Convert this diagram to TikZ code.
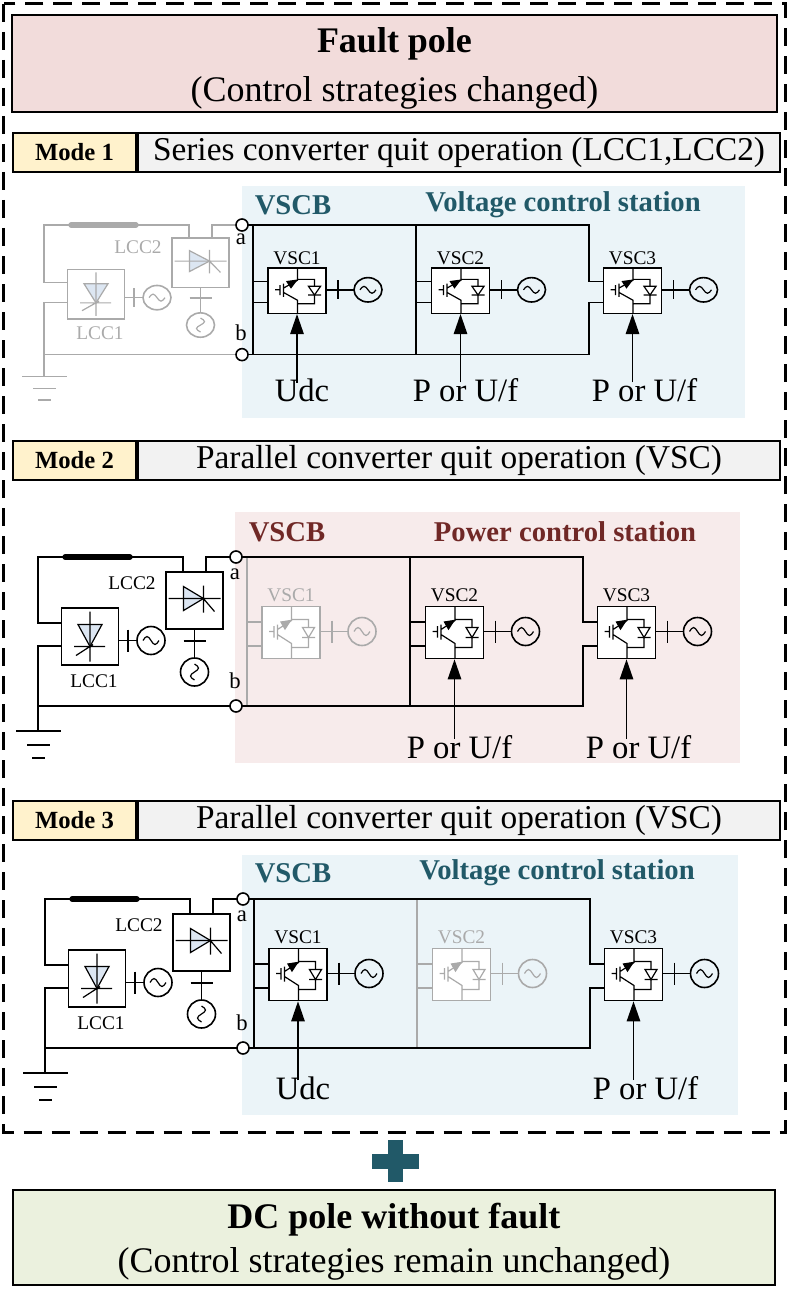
\documentclass[tikz,border=0pt]{standalone}
\usepackage{fontspec}
\setmainfont{Liberation Serif}
\usetikzlibrary{arrows.meta,positioning}

\definecolor{faultpink}{RGB}{242,220,219}
\definecolor{modeyellow}{RGB}{255,242,204}
\definecolor{modegray}{RGB}{242,242,242}
\definecolor{okgreen}{RGB}{235,241,222}
\definecolor{vscblue}{RGB}{235,244,248}
\definecolor{vscpink}{RGB}{247,235,235}
\definecolor{tealtxt}{RGB}{33,89,104}
\definecolor{redtxt}{RGB}{112,40,38}
\definecolor{diodeblue}{RGB}{220,230,242}
\definecolor{offgray}{RGB}{170,170,170}

\tikzset{
  wire/.style={line width=1.2pt},
  sym/.style={line width=0.9pt},
  vscbox/.style={draw, fill=white, line width=1.2pt, minimum width=43.5pt, minimum height=39pt, inner sep=0pt, transform shape},
  lccbox/.style={draw, fill=white, line width=1.2pt, minimum width=43pt, minimum height=42.75pt, inner sep=0pt, transform shape},
  term/.style={draw, fill=white, line width=1.2pt, circle, inner sep=0pt, minimum size=9pt},
  bigtxt/.style={align=center, inner sep=0pt},
  rowbox/.style={draw, line width=1.5pt, minimum height=29.25pt, inner sep=0pt},
  rowtxt/.style={font=\fontsize{25}{30}\selectfont},
  modetxt/.style={font=\fontsize{18.5}{22}\selectfont\bfseries},
  station/.style={font=\fontsize{21.5}{26}\selectfont\bfseries, inner sep=0pt},
  ctrltxt/.style={font=\fontsize{24.5}{28}\selectfont, inner sep=2pt},
  smalltxt/.style={font=\fontsize{14.5}{17}\selectfont, inner sep=0pt},
  abtxt/.style={font=\fontsize{17}{20}\selectfont, inner sep=0pt},
  ctrlarrow/.style={line width=1.2pt, shorten <=-5pt, -{Triangle[length=15pt, width=10pt]}},
}

% ac source: [rotation]{centre}{colour}
\newcommand{\acsrc}[3][0]{%
  \begin{scope}[shift={#2}, rotate=#1]
    \draw[wire,#3] (0,0) circle (14);
    \draw[sym,#3] (-8,0) sin (-4,-4) cos (0,0) sin (4,4) cos (8,0);
  \end{scope}}

% vsc unit: {name}{x}{colour}{label}
\newcommand{\vscunit}[4]{%
  \node[vscbox, draw=#3] (#1) at (#2,75.5) {};
  \node[smalltxt, text=#3] (#1-lbl) at (#2,38) {#4};
  \begin{scope}[shift={(#2,75.5)}]
    \draw[sym,#3] (0.5,-26) -- (0.5,-12) -- (-13.5,-3) (-13.5,-8) -- (-13.5,7) (-13.5,2) -- (0.5,11) -- (0.5,26)
      (-17,-6.5) -- (-17,5) (-17,-1) -- (-22,-1)
      (0.5,-13) -- (17.5,-13) -- (17.5,15) -- (0.5,15)
      (11,5) -- (24,5);
    \filldraw[sym,#3] (-0.5,-12) -- (-10,-10.5) -- (-6,-3.5) -- cycle;
    \filldraw[sym,draw=#3,fill=white] (11.5,-5) -- (23.5,-5) -- (17.5,5) -- cycle;
    \draw[wire,#3] (29,-1) -- (57,-1) (41,-12) -- (41,10);
  \end{scope}
  \acsrc{(#2+71,74.5)}{#3}}

% series part with LCC1, LCC2: {colour}
\newcommand{\lccside}[1]{%
  \draw[wire,#1] (-53,15) -- (-53,0) -- (-198,0) -- (-198,66) -- (-175,66)
    (-30,15) -- (-30,0) -- (0,0)
    (-175,89) -- (-198,89) -- (-198,174)
    (-198,149) -- (0,149)
    (-220,174) -- (-175,174) (-209,188) -- (-186,188) (-204,201) -- (-191,201);
  \draw[#1, line width=4pt, line cap=round] (-171,0) -- (-106,0);
  \node[lccbox, draw=#1] (lcc1) at (-146,79.5) {};
  \node[lccbox, draw=#1] (lcc2) at (-41.5,43.5) {};
  \node[smalltxt, text=#1] (lcc1-lbl) at (-142,124) {LCC1};
  \node[smalltxt, text=#1] (lcc2-lbl) at (-104,26) {LCC2};
  \begin{scope}[shift={(-146,79.5)}]
    \filldraw[sym, draw=#1, fill=diodeblue] (-12,-12) -- (12,-12) -- (0,10) -- cycle;
    \draw[sym,#1] (0,-25) -- (0,25) (-16,10) -- (15,10) (-14,19) -- (3,8);
    \draw[wire,#1] (29,4) -- (47,4) (38,-7) -- (38,15);
  \end{scope}
  \acsrc{(-85,83.5)}{#1}
  \begin{scope}[shift={(-41.5,43.5)}]
    \filldraw[sym, draw=#1, fill=diodeblue] (-11,-14) -- (-11,10) -- (9,-2) -- cycle;
    \draw[sym,#1] (-26,-2) -- (26,-2) (9,-15) -- (9,12) (8,-3) -- (20,11);
    \draw[wire,#1] (0,28.5) -- (0,57.5) (-11,40.5) -- (11,40.5);
  \end{scope}
  \acsrc[90]{(-41.5,115)}{#1}}

% terminals a and b
\newcommand{\terminals}{%
  \node[term] (a) at (0,0) {};
  \node[term] (b) at (0,149) {};
  \node[abtxt] (a-lbl) at (-1,17) {a};
  \node[abtxt] (b-lbl) at (-1,124) {b};}

\begin{document}
\begin{tikzpicture}[x=0.75pt, y=-0.75pt]
  \useasboundingbox (0,0) rectangle (789,1298);

  % fault pole
  \node[draw, line width=1.2pt, fill=faultpink, minimum width=573.75pt, minimum height=72.75pt] (fault) at (394.5,63.5) {};
  \node[bigtxt, font=\fontsize{27}{36.75}\selectfont] (faulttxt) at ([yshift=-4pt]fault.center) {\textbf{Fault pole}\\(Control strategies changed)};

  % mode rows
  \node[rowbox, fill=modeyellow, minimum width=92.25pt, anchor=west, modetxt] (mode1) at (12,152.5) {Mode 1};
  \node[rowbox, fill=modegray, minimum width=481.5pt, right=0pt of mode1, rowtxt] (mode1txt) {Series converter quit operation (LCC1,LCC2)};
  \node[rowbox, fill=modeyellow, minimum width=92.25pt, anchor=west, modetxt] (mode2) at (12,460) {Mode 2};
  \node[rowbox, fill=modegray, minimum width=481.5pt, right=0pt of mode2, rowtxt] (mode2txt) {Parallel converter quit operation (VSC)};
  \node[rowbox, fill=modeyellow, minimum width=92.25pt, anchor=west, modetxt] (mode3) at (12,820) {Mode 3};
  \node[rowbox, fill=modegray, minimum width=481.5pt, right=0pt of mode3, rowtxt] (mode3txt) {Parallel converter quit operation (VSC)};

  % mode 1
  \begin{scope}[shift={(242,225)}, yscale=0.87, name prefix=m1-]
    \fill[vscblue] (0,-45) rectangle (503,222);
    \node[station, text=tealtxt] (vscb) at (51,-23) {VSCB};
    \node[station, text=tealtxt] (role) at (321,-23) {Voltage control station};
    \lccside{offgray}
    \draw[wire] (0,0) -- (347,0) -- (347,65) -- (362,65) (0,149) -- (347,149) -- (347,89) -- (362,89)
      (11,0) -- (11,149) (11,65) -- (27,65) (11,89) -- (27,89)
      (174,0) -- (174,149) (174,65) -- (190,65) (174,89) -- (190,89);
    \vscunit{vsc1}{55}{black}{VSC1}
    \vscunit{vsc2}{218.5}{black}{VSC2}
    \vscunit{vsc3}{390.5}{black}{VSC3}
    \node[ctrltxt] (ctl1) at (60,190) {Udc};
    \node[ctrltxt] (ctl2) at (223.5,190) {P or U/f};
    \node[ctrltxt] (ctl3) at (402.5,190) {P or U/f};
    \draw[ctrlarrow] (ctl1.north -| vsc1.south) -- (vsc1.south);
    \draw[ctrlarrow] (ctl2.north -| vsc2.south) -- (vsc2.south);
    \draw[ctrlarrow] (ctl3.north -| vsc3.south) -- (vsc3.south);
    \terminals
  \end{scope}

  % mode 2
  \begin{scope}[shift={(236,557)}, name prefix=m2-]
    \fill[vscpink] (-1,-45) rectangle (504,206);
    \node[station, text=redtxt] (vscb) at (51,-25) {VSCB};
    \node[station, text=redtxt] (role) at (329,-25) {Power control station};
    \lccside{black}
    \draw[wire,offgray] (11,0) -- (11,149) (11,65) -- (27,65) (11,89) -- (27,89);
    \draw[wire] (0,0) -- (347,0) -- (347,65) -- (362,65) (0,149) -- (347,149) -- (347,89) -- (362,89)
      (174,0) -- (174,149) (174,65) -- (190,65) (174,89) -- (190,89);
    \vscunit{vsc1}{55}{offgray}{VSC1}
    \vscunit{vsc2}{218.5}{black}{VSC2}
    \vscunit{vsc3}{390.5}{black}{VSC3}
    \node[ctrltxt] (ctl2) at (223.5,190) {P or U/f};
    \node[ctrltxt] (ctl3) at (402.5,190) {P or U/f};
    \draw[ctrlarrow] (ctl2.north -| vsc2.south) -- (vsc2.south);
    \draw[ctrlarrow] (ctl3.north -| vsc3.south) -- (vsc3.south);
    \terminals
  \end{scope}

  % mode 3
  \begin{scope}[shift={(243,899)}, name prefix=m3-]
    \fill[vscblue] (-1,-44) rectangle (495,216);
    \node[station, text=tealtxt] (vscb) at (50,-26) {VSCB};
    \node[station, text=tealtxt] (role) at (314,-26) {Voltage control station};
    \lccside{black}
    \draw[wire,offgray] (174,0) -- (174,149) (174,65) -- (190,65) (174,89) -- (190,89);
    \draw[wire] (0,0) -- (347,0) -- (347,65) -- (362,65) (0,149) -- (347,149) -- (347,89) -- (362,89)
      (11,0) -- (11,149) (11,65) -- (27,65) (11,89) -- (27,89);
    \vscunit{vsc1}{55}{black}{VSC1}
    \vscunit{vsc2}{218.5}{offgray}{VSC2}
    \vscunit{vsc3}{390.5}{black}{VSC3}
    \node[ctrltxt] (ctl1) at (60,189) {Udc};
    \node[ctrltxt] (ctl3) at (402.5,189) {P or U/f};
    \draw[ctrlarrow] (ctl1.north -| vsc1.south) -- (vsc1.south);
    \draw[ctrlarrow] (ctl3.north -| vsc3.south) -- (vsc3.south);
    \terminals
  \end{scope}

  % outer frame of the fault pole
  \draw[line width=2.25pt, dash pattern=on 13.5pt off 7.5pt] (3.5,4) rectangle (785.5,1132);

  % plus
  \fill[tealtxt] (371.5,1153.5) rectangle (418.5,1168.5);
  \fill[tealtxt] (387.5,1140) rectangle (402.5,1182);

  % healthy pole
  \node[draw, line width=1.2pt, fill=okgreen, minimum width=571.5pt, minimum height=71.25pt] (dcpole) at (394,1237.5) {};
  \node[bigtxt, font=\fontsize{27}{33}\selectfont] (dctxt) at ([yshift=-3pt]dcpole.center) {\textbf{DC pole without fault}\\(Control strategies remain unchanged)};
\end{tikzpicture}
\end{document}
